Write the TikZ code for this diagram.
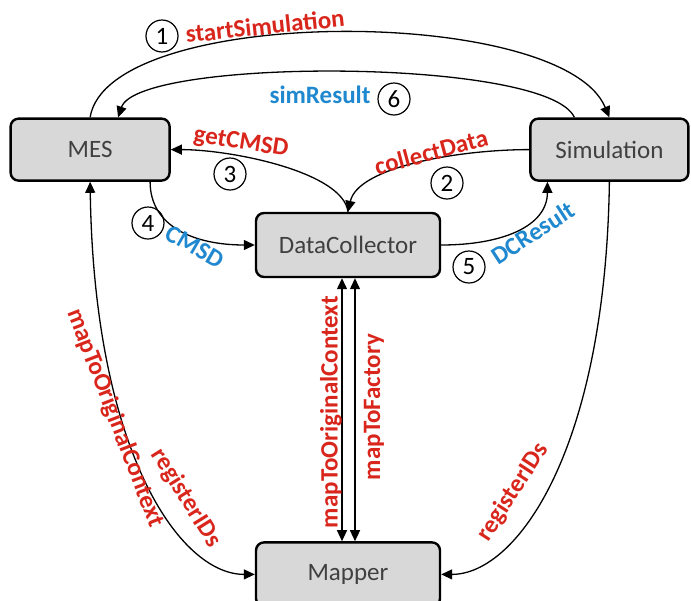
\documentclass[tikz,border=0pt]{standalone}
\usepackage{fontspec}
\setmainfont{Carlito}
\usetikzlibrary{
  arrows.meta,
  positioning
}
\definecolor{ink}{HTML}{000000}
\definecolor{boxgrey}{HTML}{D9D8D9}
\definecolor{boxtext}{HTML}{404040}
\definecolor{callred}{HTML}{D9261C}
\definecolor{replyblue}{HTML}{1F88CF}
\tikzset{
  component/.style={
    draw=ink,
    fill=boxgrey,
    line width=2.4pt,
    rounded corners=8pt,
    minimum height=62pt,
    inner sep=0pt,
    text=boxtext,
    font=\fontsize{25}{28}\selectfont
  },
  call/.style={
    ->,
    line width=1.3pt,
    draw=ink
  },
  twoway/.style={
    call,
    <->
  },
  calllabel/.style={
    text=callred,
    inner sep=0pt,
    font=\fontsize{25}{27}\selectfont\bfseries
  },
  replylabel/.style={
    calllabel,
    text=replyblue
  },
  stepno/.style={
    circle,
    draw=ink,
    line width=1.2pt,
    minimum size=32pt,
    inner sep=0pt,
    font=\fontsize{25}{27}\selectfont
  }
}

\begin{document}
\begin{tikzpicture}[x=1pt, y=1pt, >={Triangle[length=11pt,width=10pt]}]
  \useasboundingbox (0,0) rectangle (691,-600);

  \node[component, minimum width=184pt, minimum height=64pt] (dc) at (348,-245) {DataCollector};
  \node[component, minimum width=184pt, minimum height=64pt, below=263pt of dc] (mapper) {Mapper};
  \node[component, minimum width=159pt, above left=30pt and 84pt of dc] (mes) {MES};
  \node[component, minimum width=158pt, above right=30pt and 88pt of dc] (sim) {Simulation};

  \draw[call] (mes.north) .. controls +(18,113) and +(-47,113) .. (sim.north);
  \draw[call] ([xshift=-35pt]sim.north) .. controls +(-27,60) and +(20,60) .. ([xshift=28pt]mes.north);
  \draw[call] (dc.north) .. controls +(-5,40) and +(60,0) .. (mes.east);
  \draw[call] (sim.west) .. controls +(-70,0) and +(10,45) .. (dc.north);
  \draw[call] ([xshift=60pt]mes.south) .. controls +(0,-45) and +(-60,0) .. (dc.west);
  \draw[call] (dc.east) .. controls +(60,0) and +(0,-45) .. ([xshift=-62pt]sim.south);
  \draw[twoway] (mes.south) .. controls +(4,-270) and +(-75,0) .. (mapper.west);
  \draw[call] (sim.south) .. controls +(-4,-270) and +(75,0) .. (mapper.east);
  \draw[twoway] ([xshift=-6pt]dc.south) -- ([xshift=-6pt]mapper.north);
  \draw[twoway] ([xshift=7pt]dc.south) -- ([xshift=7pt]mapper.north);

  \node[stepno] (s1) at (162,-36) {1};
  \node[calllabel, rotate=6] (lstart) at (265,-26) {startSimulation};
  \node[replylabel] (lresult) at (320,-95) {simResult};
  \node[stepno] (s6) at (394,-99) {6};
  \node[calllabel, rotate=-9] (lget) at (241,-143) {getCMSD};
  \node[stepno] (s3) at (230,-174) {3};
  \node[calllabel, rotate=15] (lcollect) at (431,-152) {collectData};
  \node[stepno] (s2) at (447,-183) {2};
  \node[stepno] (s4) at (148,-223) {4};
  \node[replylabel, rotate=-30] (lcmsd) at (195,-247) {CMSD};
  \node[stepno] (s5) at (469,-267) {5};
  \node[replylabel, rotate=33] (ldcresult) at (533,-233) {DCResult};
  \node[calllabel, rotate=-69] (lorigleft) at (115,-418) {mapToOriginalContext};
  \node[calllabel, rotate=-58] (lregleft) at (186,-498) {registerIDs};
  \node[calllabel, rotate=90] (lorigmid) at (331,-412) {mapToOriginalContext};
  \node[calllabel, rotate=90] (lfactory) at (374,-407) {mapToFactory};
  \node[calllabel, rotate=57] (lregright) at (513,-492) {registerIDs};
\end{tikzpicture}
\end{document}
